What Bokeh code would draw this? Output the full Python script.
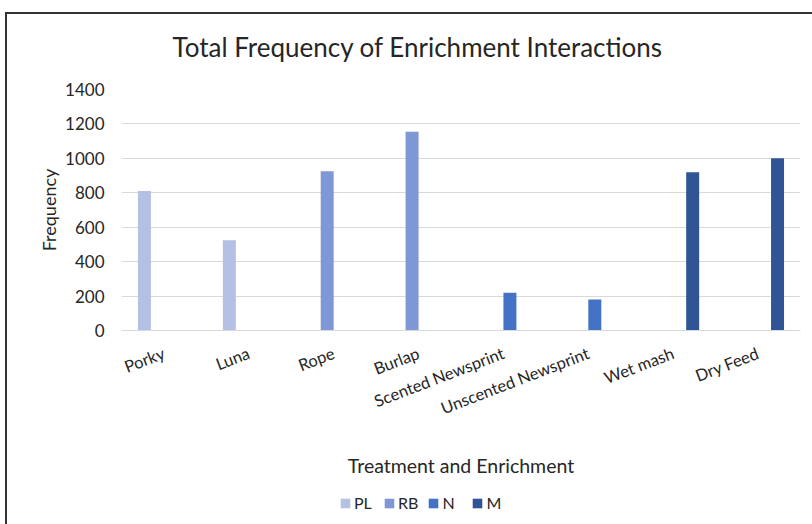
from bokeh.plotting import figure
from bokeh.layouts import column
from bokeh.models import (ColumnDataSource, FactorRange, Range1d, Legend,
                          LegendItem, SingleIntervalTicker, Title)
from bokeh.transform import dodge
from bokeh.embed import file_html
from bokeh.resources import INLINE
import math

# ---- data ----
categories = ["Porky", "Luna", "Rope", "Burlap", "Scented Newsprint",
              "Unscented Newsprint", "Wet mash", "Dry Feed"]
series_names = ["PL", "RB", "N", "M"]
pl = [810, 525, 0, 0, 0, 0, 0, 0]
rb = [0, 0, 925, 1155, 0, 0, 0, 0]
n = [0, 0, 0, 0, 220, 180, 0, 0]
m = [0, 0, 0, 0, 0, 0, 920, 1000]
colors = ["#B4C1E4", "#7F97D4", "#4472C4", "#2F5597"]

title_text = "Total Frequency of Enrichment Interactions"
x_title = "Treatment and Enrichment"
y_title = "Frequency"

FONT = "Lato"
TXT = "#262626"

source = ColumnDataSource(dict(cat=categories, PL=pl, RB=rb, N=n, M=m))
xr = FactorRange(*categories, range_padding=0)

# ---- main chart ----
p = figure(width=812, height=480, x_range=xr,
           y_range=Range1d(0, 1400), output_backend="svg", toolbar_location=None,
           min_border_left=121, min_border_right=12, min_border_top=89,
           min_border_bottom=150)
p.title = Title(text=title_text, align="left", offset=51, standoff=54,
                text_font=FONT, text_font_size="26px", text_font_style="normal",
                text_color=TXT)
p.outline_line_color = None
p.background_fill_color = "white"
p.border_fill_color = "white"

bw = 0.153
offsets = [-1.5 * bw, -0.5 * bw, 0.5 * bw, 1.5 * bw]
for name, off, col in zip(series_names, offsets, colors):
    p.vbar(x=dodge("cat", off, range=xr), top=name, width=bw,
           source=source, fill_color=col, line_color=None)

p.yaxis.ticker = SingleIntervalTicker(interval=200)
p.yaxis.axis_line_color = None
p.yaxis.major_tick_line_color = None
p.yaxis.minor_tick_line_color = None
p.yaxis.major_label_text_font = FONT
p.yaxis.major_label_text_font_size = "17px"
p.yaxis.major_label_text_color = TXT
p.yaxis.major_label_standoff = 11
p.yaxis.axis_label = y_title
p.yaxis.axis_label_text_font = FONT
p.yaxis.axis_label_text_font_size = "18px"
p.yaxis.axis_label_text_font_style = "normal"
p.yaxis.axis_label_text_color = TXT
p.yaxis.axis_label_standoff = 2

p.xaxis.axis_line_color = "#D9D9D9"
p.xaxis.major_tick_line_color = None
p.xaxis.minor_tick_line_color = None
p.xaxis.major_label_text_font = FONT
p.xaxis.major_label_text_font_size = "16.5px"
p.xaxis.major_label_text_color = TXT
p.xaxis.major_label_orientation = math.radians(21)
p.xaxis.major_label_standoff = 16
p.xaxis.axis_label = x_title
p.xaxis.axis_label_text_font = FONT
p.xaxis.axis_label_text_font_size = "19.5px"
p.xaxis.axis_label_text_font_style = "normal"
p.xaxis.axis_label_text_color = TXT
p.xaxis.axis_label_standoff = 24

p.xgrid.grid_line_color = None
p.ygrid.grid_line_color = "#D9D9D9"
p.ygrid.grid_line_width = 1

# ---- legend strip (same series; its view window lies above the data) ----
p2 = figure(width=812, height=44, x_range=xr, y_range=Range1d(5000, 6000),
            output_backend="svg", toolbar_location=None, x_axis_type=None,
            y_axis_type=None, min_border_left=121, min_border_right=12,
            min_border_top=0, min_border_bottom=0)
p2.title = None
p2.outline_line_color = None
p2.xgrid.grid_line_color = None
p2.ygrid.grid_line_color = None
p2.border_fill_color = "white"
leg_renderers = []
for name, off, col in zip(series_names, offsets, colors):
    leg_renderers.append(p2.vbar(x=dodge("cat", off, range=xr), top=name, width=bw,
                                 source=source, fill_color=col, line_color=None))
legend = Legend(items=[LegendItem(label=nm, renderers=[r]) for nm, r in zip(series_names, leg_renderers)],
                orientation="horizontal", location=(218, 12),
                glyph_width=12, glyph_height=12, label_standoff=3, spacing=9,
                padding=0, margin=0, border_line_color=None, background_fill_alpha=0,
                label_text_font=FONT, label_text_font_size="16px", label_text_color=TXT)
p2.add_layout(legend, "center")

layout = column(p, p2, spacing=0)
# decorative frame of the whole chart area
layout.stylesheets = [""":host::after { content: ""; position: absolute; left: 5px; top: 12px;
  width: 807px; height: 512px; border-left: 2.5px solid #333; border-top: 2.5px solid #333;
  pointer-events: none; z-index: 10; box-sizing: border-box; }"""]

open("out.html", "w").write(file_html(layout, INLINE))
